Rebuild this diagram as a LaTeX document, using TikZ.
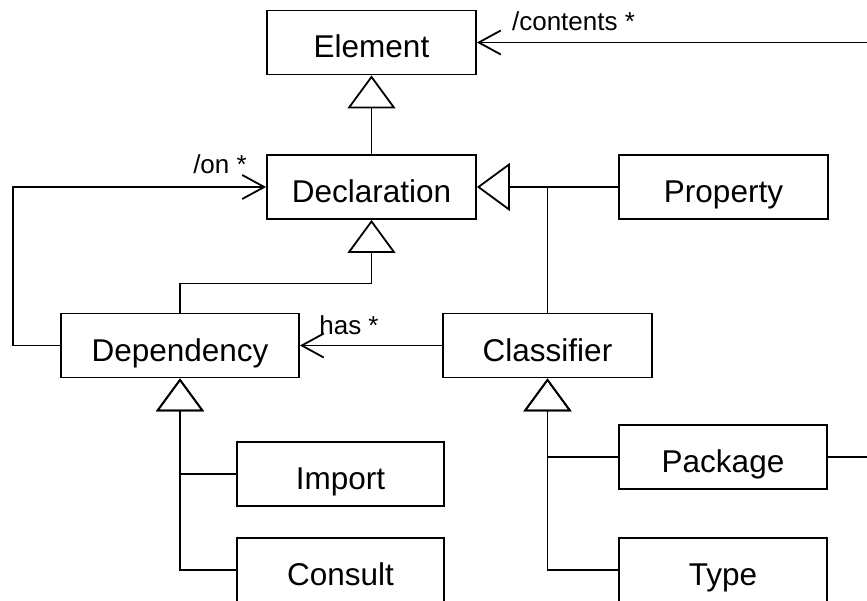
\documentclass[tikz,border=0pt]{standalone}
\usepackage{fontspec}
\setmainfont{Liberation Sans}
\usetikzlibrary{arrows.meta}

\tikzset{
  classbox/.style={draw, line width=1.8pt, minimum width=209pt, minimum height=64pt,
    inner sep=0pt, text height=31pt, text depth=0pt, font=\fontsize{31.5}{36}\selectfont},
  rolelabel/.style={inner sep=0pt, font=\fontsize{26}{30}\selectfont},
  link/.style={line width=1.8pt},
  gen/.style={link, -{Triangle[open, length=33pt, width=48pt]}},
  assoc/.style={link, -{Straight Barb[length=22pt, width=24pt]}}
}

\begin{document}
\begin{tikzpicture}[x=1pt, y=-1pt]
\useasboundingbox (0,0) rectangle (867,601);
\clip (0,0) rectangle (867,601);

% les classes
\node[classbox] (element) at (371.5,42.5) {Element};
\node[classbox] (declaration) at (371.5,187) {Declaration};
\node[classbox] (property) at (723.5,187) {Property};
\node[classbox, minimum width=238pt] (dependency) at (180,345.5) {Dependency};
\node[classbox] (classifier) at (547.5,345.5) {Classifier};
\node[classbox, minimum width=207pt] (import) at (340.5,474) {Import};
\node[classbox, minimum width=207pt] (consult) at (340.5,570) {Consult};
\node[classbox, minimum width=208pt] (package) at (723,457) {Package};
\node[classbox, minimum width=208pt] (type) at (723,570) {Type};

% heritage
\draw[gen] (declaration) -- (element);
\draw[gen] (property) -- (declaration);
\draw[link] (classifier.north) -- (classifier.north |- property.west);
\draw[gen] (dependency.north) -- ++(0,-29) -| (declaration.south);
\draw[gen] (import.west) -| (dependency.south);
\draw[gen] (consult.west) -| (dependency.south);
\draw[gen] (package.west) -| (classifier.south);
\draw[gen] (type.west) -| (classifier.south);

% associations
\draw[assoc] (dependency.west) -- ++(-47,0) |- (declaration.west);
\node[rolelabel] (on) at (220,164) {/on *};
\draw[assoc] (classifier) -- (dependency);
\node[rolelabel] (has) at (349,325) {has *};
\draw[assoc] (package.east) -- ++(60,0) |- (element.east);
\node[rolelabel] (contents) at (573.5,21) {/contents *};

\end{tikzpicture}
\end{document}
